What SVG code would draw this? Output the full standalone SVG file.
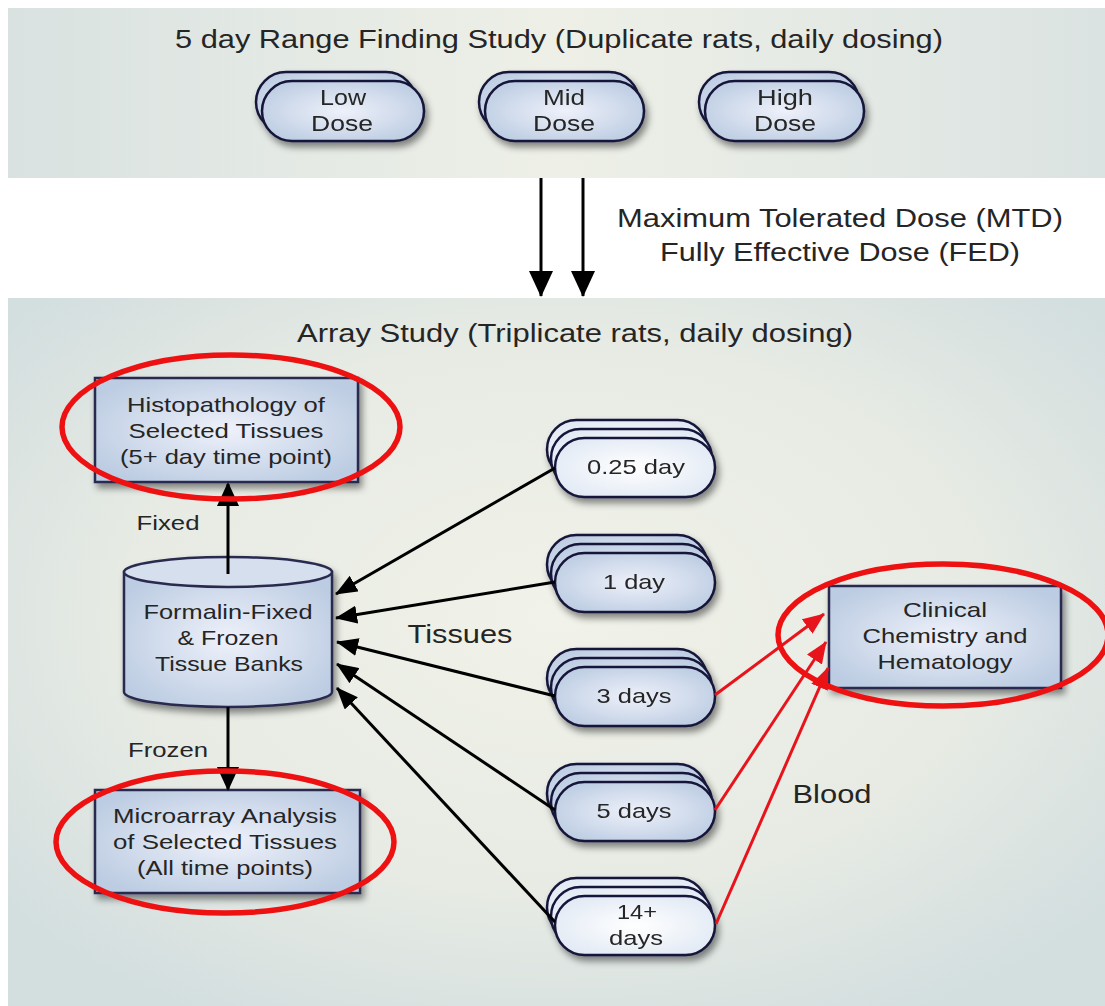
<svg xmlns="http://www.w3.org/2000/svg" width="1105" height="1006" viewBox="0 0 1105 1006">
<defs>
<linearGradient id="bgTop" x1="0" y1="0" x2="1" y2="0">
<stop offset="0" stop-color="#d9e2e1"/><stop offset="0.5" stop-color="#eef0e7"/><stop offset="1" stop-color="#dbe3e2"/>
</linearGradient>
<radialGradient id="bgBot" cx="0.5" cy="0.45" r="0.65">
<stop offset="0" stop-color="#f1f2e9"/><stop offset="0.6" stop-color="#e7ebe4"/><stop offset="1" stop-color="#d3dedf"/>
</radialGradient>
<radialGradient id="blue" cx="0.5" cy="0.5" r="0.6">
<stop offset="0" stop-color="#eef1fa"/><stop offset="1" stop-color="#bccce2"/>
</radialGradient>
<radialGradient id="white" cx="0.5" cy="0.5" r="0.6">
<stop offset="0" stop-color="#ffffff"/><stop offset="1" stop-color="#e1e9f4"/>
</radialGradient>
<filter id="sh" x="-20%" y="-20%" width="150%" height="160%">
<feDropShadow dx="3" dy="5" stdDeviation="3.5" flood-color="#000" flood-opacity="0.45"/>
</filter>
<marker id="ah" markerUnits="userSpaceOnUse" markerWidth="24" markerHeight="22" refX="22" refY="11" orient="auto">
<path d="M0,0 L24,11 L0,22 Z" fill="#000"/>
</marker>
<marker id="ahs" markerUnits="userSpaceOnUse" markerWidth="22" markerHeight="18" refX="21" refY="9" orient="auto">
<path d="M0,0 L22,9 L0,18 Z" fill="#000"/>
</marker>
<marker id="ahr" markerUnits="userSpaceOnUse" markerWidth="22" markerHeight="18" refX="21" refY="9" orient="auto">
<path d="M0,0 L22,9 L0,18 Z" fill="#e8141c"/>
</marker>
<marker id="ahb" markerUnits="userSpaceOnUse" markerWidth="26" markerHeight="24" refX="25" refY="12" orient="auto">
<path d="M0,0 L26,12 L0,24 Z" fill="#000"/>
</marker>
</defs>
<style>
text{font-family:"Liberation Sans",Arial,sans-serif;fill:#252525;text-anchor:middle}
.t{font-size:26px}
.n{font-size:21px}
.d{font-size:22px}
.pill{stroke:#16163a;stroke-width:2.5}
.box{fill:url(#blue);stroke:#2a2a50;stroke-width:2.5}
.ring{fill:none;stroke:#ee1111;stroke-width:5.5}
.blk{stroke:#000;stroke-width:3;fill:none}
.red{stroke:#e8141c;stroke-width:3;fill:none}
</style>
<rect width="1105" height="1006" fill="#ffffff"/>
<rect x="8" y="8" width="1097" height="170" fill="url(#bgTop)"/>
<rect x="8" y="298" width="1097" height="708" fill="url(#bgBot)"/>
<text class="t" x="559" y="48" textLength="768" lengthAdjust="spacingAndGlyphs">5 day Range Finding Study (Duplicate rats, daily dosing)</text>
<text class="t" x="840" y="227" textLength="446" lengthAdjust="spacingAndGlyphs">Maximum Tolerated Dose (MTD)</text>
<text class="t" x="840" y="261" textLength="360" lengthAdjust="spacingAndGlyphs">Fully Effective Dose (FED)</text>
<text class="t" x="575" y="342" textLength="556" lengthAdjust="spacingAndGlyphs">Array Study (Triplicate rats, daily dosing)</text>

<g id="low-dose" filter="url(#sh)">
<rect class="pill" x="256" y="72" width="160" height="60" rx="30" fill="url(#blue)"/>
<rect class="pill" x="262" y="81" width="162" height="60" rx="30" fill="url(#blue)"/>
<text class="d" x="343" y="105" textLength="46" lengthAdjust="spacingAndGlyphs">Low</text><text class="d" x="342" y="131" textLength="62" lengthAdjust="spacingAndGlyphs">Dose</text>
</g>
<g id="mid-dose" filter="url(#sh)">
<rect class="pill" x="479" y="72" width="160" height="60" rx="30" fill="url(#blue)"/>
<rect class="pill" x="485" y="81" width="159" height="60" rx="30" fill="url(#blue)"/>
<text class="d" x="564" y="105" textLength="42" lengthAdjust="spacingAndGlyphs">Mid</text><text class="d" x="564" y="131" textLength="62" lengthAdjust="spacingAndGlyphs">Dose</text>
</g>
<g id="high-dose" filter="url(#sh)">
<rect class="pill" x="699" y="72" width="160" height="60" rx="30" fill="url(#blue)"/>
<rect class="pill" x="705" y="81" width="159" height="60" rx="30" fill="url(#blue)"/>
<text class="d" x="785" y="105" textLength="56" lengthAdjust="spacingAndGlyphs">High</text><text class="d" x="785" y="131" textLength="62" lengthAdjust="spacingAndGlyphs">Dose</text>
</g>

<g id="histopathology">
<rect class="box" x="95" y="378" width="263" height="104" filter="url(#sh)"/>
<text class="n" x="226" y="412" textLength="198" lengthAdjust="spacingAndGlyphs">Histopathology of</text>
<text class="n" x="226" y="438" textLength="195" lengthAdjust="spacingAndGlyphs">Selected Tissues</text>
<text class="n" x="226" y="464" textLength="212" lengthAdjust="spacingAndGlyphs">(5+ day time point)</text>
</g>
<g id="tissue-banks">
<g filter="url(#sh)">
<path d="M124,572 V692 A104,15 0 0 0 332,692 V572 Z" fill="url(#blue)" stroke="#2a2a50" stroke-width="2.5"/>
<ellipse cx="228" cy="572" rx="104" ry="15" fill="#d5dfee" stroke="#2a2a50" stroke-width="2.5"/>
</g>
<text class="n" x="228" y="619" textLength="169" lengthAdjust="spacingAndGlyphs">Formalin-Fixed</text>
<text class="n" x="228" y="645" textLength="101" lengthAdjust="spacingAndGlyphs">&amp; Frozen</text>
<text class="n" x="229" y="671" textLength="148" lengthAdjust="spacingAndGlyphs">Tissue Banks</text>
</g>
<g id="microarray">
<rect class="box" x="95" y="790" width="265" height="103" filter="url(#sh)"/>
<text class="n" x="225" y="823" textLength="224" lengthAdjust="spacingAndGlyphs">Microarray Analysis</text>
<text class="n" x="225" y="849" textLength="224" lengthAdjust="spacingAndGlyphs">of Selected Tissues</text>
<text class="n" x="225" y="875" textLength="176" lengthAdjust="spacingAndGlyphs">(All time points)</text>
</g>
<g id="clinical">
<rect class="box" x="829" y="586" width="232" height="102" filter="url(#sh)"/>
<text class="n" x="945" y="617" textLength="84" lengthAdjust="spacingAndGlyphs">Clinical</text>
<text class="n" x="945" y="643" textLength="165" lengthAdjust="spacingAndGlyphs">Chemistry and</text>
<text class="n" x="945" y="669" textLength="135" lengthAdjust="spacingAndGlyphs">Hematology</text>
</g>

<g id="t025" filter="url(#sh)">
<rect class="pill" x="547" y="420" width="160" height="59" rx="29.5" fill="url(#white)"/>
<rect class="pill" x="551" y="429" width="161" height="59" rx="29.5" fill="url(#white)"/>
<rect class="pill" x="555" y="438" width="160" height="59" rx="29.5" fill="url(#white)"/>
<text class="n" x="636" y="474" textLength="98" lengthAdjust="spacingAndGlyphs">0.25 day</text>
</g>
<g id="t1" filter="url(#sh)">
<rect class="pill" x="547" y="535" width="160" height="59" rx="29.5" fill="url(#blue)"/>
<rect class="pill" x="551" y="544" width="161" height="59" rx="29.5" fill="url(#blue)"/>
<rect class="pill" x="555" y="553" width="160" height="59" rx="29.5" fill="url(#blue)"/>
<text class="n" x="634" y="589" textLength="62" lengthAdjust="spacingAndGlyphs">1 day</text>
</g>
<g id="t3" filter="url(#sh)">
<rect class="pill" x="547" y="649" width="160" height="59" rx="29.5" fill="url(#blue)"/>
<rect class="pill" x="551" y="658" width="161" height="59" rx="29.5" fill="url(#blue)"/>
<rect class="pill" x="555" y="667" width="160" height="59" rx="29.5" fill="url(#blue)"/>
<text class="n" x="634" y="703" textLength="75" lengthAdjust="spacingAndGlyphs">3 days</text>
</g>
<g id="t5" filter="url(#sh)">
<rect class="pill" x="547" y="764" width="160" height="59" rx="29.5" fill="url(#blue)"/>
<rect class="pill" x="551" y="773" width="161" height="59" rx="29.5" fill="url(#blue)"/>
<rect class="pill" x="555" y="782" width="160" height="59" rx="29.5" fill="url(#blue)"/>
<text class="n" x="634" y="818" textLength="75" lengthAdjust="spacingAndGlyphs">5 days</text>
</g>
<g id="t14" filter="url(#sh)">
<rect class="pill" x="547" y="878" width="160" height="59" rx="29.5" fill="url(#white)"/>
<rect class="pill" x="551" y="887" width="161" height="59" rx="29.5" fill="url(#white)"/>
<rect class="pill" x="555" y="896" width="160" height="59" rx="29.5" fill="url(#white)"/>
<text class="n" x="637" y="919" textLength="40" lengthAdjust="spacingAndGlyphs">14+</text>
<text class="n" x="636" y="945" textLength="54" lengthAdjust="spacingAndGlyphs">days</text>
</g>

<g id="connectors">
<line class="blk" x1="541" y1="178" x2="541" y2="296" marker-end="url(#ahb)"/>
<line class="blk" x1="583" y1="178" x2="583" y2="296" marker-end="url(#ahb)"/>
<line class="blk" x1="228" y1="574" x2="228" y2="484" marker-end="url(#ah)"/>
<line class="blk" x1="228" y1="707" x2="228" y2="789" marker-end="url(#ah)"/>
<line class="blk" x1="555" y1="468" x2="336" y2="594" marker-end="url(#ahs)"/>
<line class="blk" x1="555" y1="582" x2="336" y2="618" marker-end="url(#ahs)"/>
<line class="blk" x1="555" y1="696" x2="337" y2="642" marker-end="url(#ahs)"/>
<line class="blk" x1="555" y1="810" x2="337" y2="664" marker-end="url(#ahs)"/>
<line class="blk" x1="555" y1="922" x2="337" y2="688" marker-end="url(#ahs)"/>
<line class="red" x1="715" y1="695" x2="824" y2="614" marker-end="url(#ahr)"/>
<line class="red" x1="715" y1="810" x2="826" y2="642" marker-end="url(#ahr)"/>
<line class="red" x1="716" y1="924" x2="828" y2="668" marker-end="url(#ahr)"/>
</g>
<text class="n" x="168" y="530" textLength="63" lengthAdjust="spacingAndGlyphs">Fixed</text>
<text class="n" x="168" y="757" textLength="80" lengthAdjust="spacingAndGlyphs">Frozen</text>
<text class="t" x="460" y="643" textLength="105" lengthAdjust="spacingAndGlyphs">Tissues</text>
<text class="t" x="832" y="803" textLength="79" lengthAdjust="spacingAndGlyphs">Blood</text>

<ellipse class="ring" cx="231" cy="427" rx="169" ry="72"/>
<ellipse class="ring" cx="225" cy="842" rx="169" ry="71"/>
<ellipse class="ring" cx="943" cy="635" rx="165" ry="71"/>
</svg>
